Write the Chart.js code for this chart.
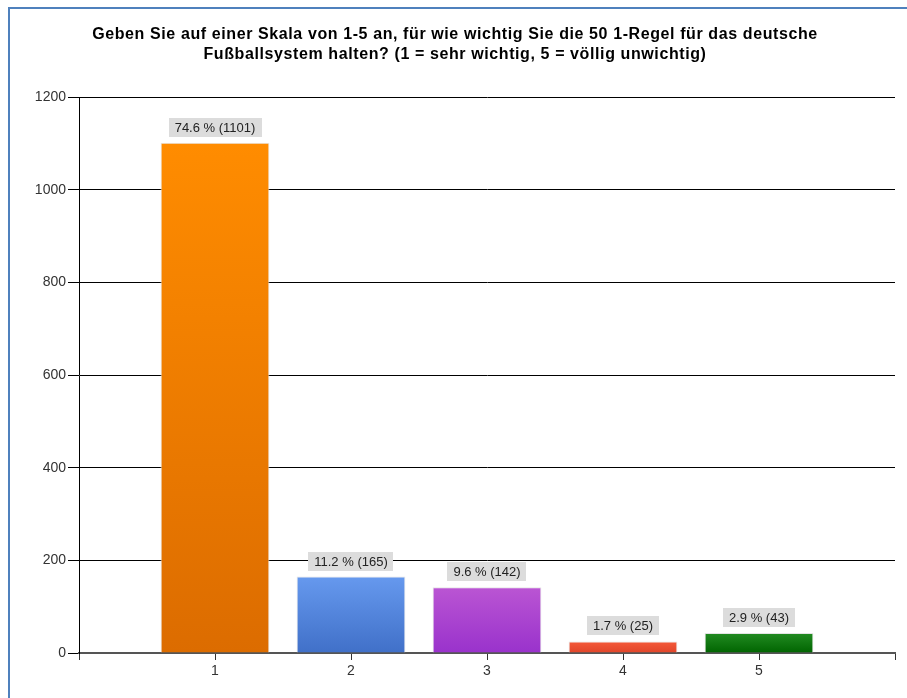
<!DOCTYPE html>
<html><head><meta charset="utf-8">
<script src="https://cdn.jsdelivr.net/npm/chart.js@4"></script>
<style>
html,body{margin:0;padding:0;background:#fff;}
#wrap{position:relative;width:907px;height:698px;overflow:hidden;}
#frame{position:absolute;left:8px;top:7px;width:1000px;height:1000px;border-left:2px solid #4F81BD;border-top:2px solid #4F81BD;pointer-events:none;}
canvas{position:absolute;left:0;top:0;}
</style></head>
<body>
<div id="wrap"><canvas id="c" width="907" height="698"></canvas><div id="frame"></div></div>
<script>
const titleLines = ['Geben Sie auf einer Skala von 1-5 an, für wie wichtig Sie die 50 1-Regel für das deutsche', 'Fußballsystem halten? (1 = sehr wichtig, 5 = völlig unwichtig)'];
const categories = ['1', '2', '3', '4', '5'];
const counts = [1101, 165, 142, 25, 43];
const percents = [74.6, 11.2, 9.6, 1.7, 2.9];
const yTicks = [0, 200, 400, 600, 800, 1000, 1200];
const topColors = ['#FF8C00', '#6699EE', '#BA55D3', '#F55A3A', '#228B22'];
const bottomColors = ['#DC6C00', '#4070C8', '#9932CC', '#E0452A', '#006400'];

const FONT = '"Liberation Sans", Arial, sans-serif';
const points = categories.map((c, i) => ({x: Number(c), y: counts[i]}));

function barGradient(ctx) {
  const chart = ctx.chart;
  const i = ctx.dataIndex;
  if (!chart.chartArea || !chart.scales.y) return topColors[i];
  const y = chart.scales.y;
  const top = y.getPixelForValue(counts[i]);
  const bot = y.getPixelForValue(0);
  const g = chart.ctx.createLinearGradient(0, top, 0, bot);
  g.addColorStop(0, topColors[i]);
  g.addColorStop(1, bottomColors[i]);
  return g;
}

const titlePlugin = {
  id: 'wideTitle',
  afterDraw(chart) {
    const ctx = chart.ctx;
    ctx.save();
    ctx.font = 'bold 16px ' + FONT;
    if ('letterSpacing' in ctx) ctx.letterSpacing = '0.6px';
    ctx.fillStyle = '#000';
    ctx.textAlign = 'center';
    ctx.textBaseline = 'alphabetic';
    titleLines.forEach((t, k) => ctx.fillText(t, 455, 39 + k * 20));
    ctx.restore();
  }
};

const labelPlugin = {
  id: 'barLabels',
  afterDatasetsDraw(chart) {
    const ctx = chart.ctx;
    const meta = chart.getDatasetMeta(0);
    ctx.save();
    ctx.font = '13px ' + FONT;
    ctx.textAlign = 'center';
    ctx.textBaseline = 'middle';
    meta.data.forEach((bar, i) => {
      const txt = percents[i].toFixed(1) + ' % (' + counts[i] + ')';
      const w = ctx.measureText(txt).width + 12;
      const h = 19;
      const cx = bar.x;
      const by = bar.y - 6 - h;
      ctx.fillStyle = '#DCDCDC';
      ctx.fillRect(Math.round(cx - w / 2), Math.round(by), Math.round(w), h);
      ctx.fillStyle = '#222';
      ctx.fillText(txt, cx, by + h / 2 + 1);
    });
    ctx.restore();
  }
};

new Chart(document.getElementById('c'), {
  type: 'bar',
  data: {
    datasets: [{
      data: points,
      backgroundColor: barGradient,
      borderColor: '#E4E4E4',
      borderWidth: 1,
      barPercentage: 1,
      categoryPercentage: 0.8
    }]
  },
  options: {
    responsive: false,
    animation: false,
    layout: {padding: {left: 20, right: 12, top: 97, bottom: 0}},
    plugins: {
      legend: {display: false},
      tooltip: {enabled: false},
      title: {display: false}
    },
    scales: {
      x: {
        type: 'linear',
        min: 0, max: 6,
        offset: false,
        afterBuildTicks: s => { s.ticks = [0,1,2,3,4,5,6].map(v => ({value: v})); },
        ticks: {
          callback: v => (categories.includes(String(v)) ? String(v) : ''),
          color: '#333',
          font: {family: FONT, size: 14},
          padding: 3,
          maxRotation: 0
        },
        grid: {drawOnChartArea: false, drawTicks: true, tickLength: 7, color: '#333', offset: false},
        border: {color: '#555', width: 2},
        afterFit: s => { s.height = 45; }
      },
      y: {
        min: 0, max: 1200,
        afterBuildTicks: s => { s.ticks = yTicks.map(v => ({value: v})); },
        ticks: {
          callback: v => String(v),
          color: '#333',
          font: {family: FONT, size: 14},
          padding: 2
        },
        grid: {color: '#000', lineWidth: 1, tickLength: 11},
        border: {color: '#000', width: 1},
        afterFit: s => { s.width = 59; }
      }
    }
  },
  plugins: [labelPlugin, titlePlugin]
});
</script>
</body></html>
